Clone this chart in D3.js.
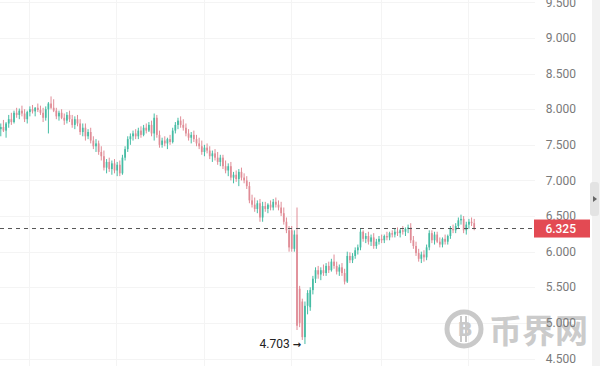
<!DOCTYPE html>
<html>
<head>
<meta charset="utf-8">
<script src="https://cdn.jsdelivr.net/npm/d3@7"></script>
<style>
  html, body { margin: 0; padding: 0; background: #fff; }
  svg { display: block; }
</style>
</head>
<body>
<svg id="chart" width="600" height="366"></svg>
<script>
// price axis ticks
const priceTicks = [4.5, 5, 5.5, 6, 6.5, 7, 7.5, 8, 8.5, 9, 9.5];
const lastPrice = 6.325;
const lowPrice = 4.703;
const lowIndex = 115;
// candle indices where the faint time grid sits
const gridIndex = [11, 44, 77, 110, 144, 177];

// [open, high, low, close]
const candles = [
  [7.72,7.80,7.62,7.75],[7.75,7.85,7.68,7.70],[7.70,7.82,7.60,7.80],[7.80,7.92,7.74,7.86],[7.86,7.95,7.78,7.82],
  [7.82,7.98,7.80,7.95],[7.95,8.02,7.88,7.92],[7.92,8.01,7.86,7.98],[7.98,8.05,7.90,7.94],[7.94,8.00,7.82,7.86],
  [7.86,7.98,7.80,7.96],[7.96,8.04,7.90,8.00],[8.00,8.06,7.94,7.97],[7.97,8.03,7.90,8.02],[8.02,8.08,7.96,7.99],
  [7.99,8.05,7.92,7.95],[7.95,8.02,7.82,7.88],[7.88,8.04,7.84,8.00],[8.00,8.10,7.66,8.08],[8.08,8.18,8.00,8.02],
  [8.02,8.14,7.96,7.98],[7.98,8.02,7.86,7.90],[7.90,7.98,7.84,7.95],[7.95,8.00,7.86,7.88],[7.88,7.94,7.78,7.84],
  [7.84,7.96,7.80,7.92],[7.92,7.98,7.82,7.86],[7.86,7.92,7.74,7.78],[7.78,7.90,7.72,7.86],[7.86,7.92,7.76,7.80],
  [7.80,7.86,7.64,7.68],[7.68,7.80,7.62,7.74],[7.74,7.80,7.56,7.62],[7.62,7.72,7.58,7.68],[7.68,7.74,7.52,7.56],
  [7.56,7.62,7.44,7.48],[7.48,7.58,7.40,7.52],[7.52,7.56,7.36,7.40],[7.40,7.48,7.28,7.34],[7.34,7.42,7.14,7.18],
  [7.18,7.30,7.10,7.26],[7.26,7.32,7.12,7.16],[7.16,7.28,7.08,7.24],[7.24,7.30,7.10,7.14],[7.14,7.26,7.06,7.22],
  [7.22,7.28,7.06,7.10],[7.10,7.36,7.08,7.32],[7.32,7.48,7.28,7.44],[7.44,7.62,7.40,7.58],[7.58,7.66,7.50,7.62],
  [7.62,7.70,7.56,7.66],[7.66,7.72,7.58,7.62],[7.62,7.74,7.58,7.70],[7.70,7.76,7.60,7.64],[7.64,7.78,7.62,7.74],
  [7.74,7.80,7.66,7.70],[7.70,7.82,7.68,7.78],[7.78,7.84,7.62,7.66],[7.66,7.94,7.56,7.88],[7.88,7.92,7.60,7.64],
  [7.64,7.70,7.46,7.50],[7.50,7.60,7.46,7.56],[7.56,7.62,7.48,7.52],[7.52,7.60,7.44,7.58],[7.58,7.64,7.50,7.54],
  [7.54,7.74,7.52,7.70],[7.70,7.82,7.66,7.78],[7.78,7.88,7.72,7.84],[7.84,7.90,7.74,7.78],[7.78,7.86,7.70,7.74],
  [7.74,7.80,7.62,7.66],[7.66,7.72,7.56,7.60],[7.60,7.68,7.52,7.64],[7.64,7.70,7.54,7.58],[7.58,7.64,7.48,7.52],
  [7.52,7.60,7.44,7.48],[7.48,7.56,7.36,7.40],[7.40,7.50,7.34,7.46],[7.46,7.52,7.38,7.42],[7.42,7.48,7.30,7.34],
  [7.34,7.42,7.26,7.38],[7.38,7.44,7.28,7.32],[7.32,7.40,7.22,7.26],[7.26,7.36,7.20,7.32],[7.32,7.36,7.16,7.20],
  [7.20,7.28,7.10,7.14],[7.14,7.24,7.06,7.20],[7.20,7.26,7.00,7.04],[7.04,7.12,6.96,7.08],[7.08,7.14,6.98,7.02],
  [7.02,7.16,6.92,7.12],[7.12,7.18,7.00,7.04],[7.04,7.10,6.96,7.00],[7.00,7.06,6.88,6.92],[6.92,6.98,6.68,6.72],
  [6.72,6.80,6.62,6.66],[6.66,6.76,6.56,6.60],[6.60,6.72,6.54,6.68],[6.68,6.74,6.42,6.48],[6.48,6.70,6.42,6.64],
  [6.64,6.70,6.56,6.60],[6.60,6.68,6.54,6.66],[6.66,6.72,6.58,6.62],[6.62,6.74,6.58,6.70],[6.70,6.76,6.62,6.66],
  [6.66,6.72,6.58,6.62],[6.62,6.70,6.50,6.54],[6.54,6.62,6.38,6.42],[6.42,6.48,6.26,6.30],[6.30,6.36,6.00,6.06],
  [6.30,6.36,6.00,6.04],[6.04,6.30,6.00,6.24],[6.24,6.62,4.90,4.96],[5.48,5.52,4.94,5.00],[5.30,5.34,4.76,4.80],
  [4.80,5.30,4.703,5.24],[5.24,5.46,5.12,5.42],[5.22,5.50,5.17,5.46],[5.46,5.66,5.40,5.62],[5.62,5.78,5.56,5.74],
  [5.74,5.80,5.62,5.68],[5.68,5.78,5.60,5.74],[5.74,5.82,5.66,5.70],[5.70,5.84,5.66,5.80],[5.80,5.86,5.70,5.74],
  [5.74,5.90,5.72,5.86],[5.86,5.96,5.76,5.80],[5.80,5.86,5.68,5.72],[5.72,5.82,5.66,5.78],[5.78,5.84,5.66,5.70],
  [5.70,5.76,5.54,5.58],[5.58,6.00,5.56,5.94],[5.94,5.99,5.84,5.88],[5.88,5.98,5.84,5.94],[5.94,6.06,5.90,6.02],
  [6.02,6.10,5.96,6.06],[6.06,6.32,6.02,6.28],[6.28,6.30,6.14,6.18],[6.18,6.26,6.12,6.22],[6.22,6.28,6.10,6.14],
  [6.14,6.24,6.08,6.20],[6.20,6.26,6.04,6.08],[6.08,6.18,6.04,6.14],[6.14,6.22,6.10,6.18],[6.18,6.24,6.12,6.16],
  [6.16,6.24,6.12,6.22],[6.22,6.28,6.16,6.20],[6.20,6.28,6.16,6.26],[6.26,6.30,6.20,6.24],[6.24,6.32,6.20,6.28],
  [6.28,6.34,6.22,6.26],[6.26,6.32,6.20,6.30],[6.30,6.36,6.24,6.28],[6.28,6.34,6.22,6.32],[6.32,6.38,6.26,6.34],
  [6.34,6.40,6.12,6.16],[6.16,6.22,6.04,6.08],[6.08,6.14,5.94,5.98],[5.98,6.04,5.86,5.90],[5.90,6.00,5.84,5.96],
  [5.96,6.02,5.86,5.92],[5.92,6.10,5.88,6.06],[6.06,6.30,6.02,6.26],[6.26,6.30,6.12,6.16],[6.16,6.28,6.10,6.24],
  [6.24,6.28,6.12,6.14],[6.14,6.20,6.06,6.10],[6.10,6.20,6.06,6.18],[6.18,6.24,6.10,6.14],[6.14,6.24,6.10,6.22],
  [6.22,6.36,6.18,6.32],[6.32,6.38,6.26,6.30],[6.30,6.40,6.26,6.36],[6.36,6.48,6.32,6.44],[6.44,6.52,6.38,6.46],
  [6.46,6.50,6.26,6.30],[6.30,6.42,6.24,6.38],[6.38,6.46,6.32,6.42],[6.42,6.48,6.36,6.40],[6.40,6.46,6.30,6.325]
];

const upColor = '#45bca4',
      downColor = '#e08c96';

const svg = d3.select('#chart');
const plotRight = 535;

let x = d3.scaleBand()
    .domain(d3.range(candles.length))
    .range([-1, 476])
    .padding(0.35);

let y = d3.scaleLinear()
    .domain([4.5, 9.5])
    .range([358.5, 2.4]);

// faint grid
let grid = svg.append('g').attr('class', 'grid');
grid.selectAll('line.h')
    .data(priceTicks)
    .enter().append('line')
    .attr('class', 'h')
    .attr('x1', 0).attr('x2', plotRight)
    .attr('y1', d => Math.round(y(d)) + 0.5)
    .attr('y2', d => Math.round(y(d)) + 0.5)
    .attr('stroke', '#f4f4f4');

grid.selectAll('line.v')
    .data(gridIndex)
    .enter().append('line')
    .attr('class', 'v')
    .attr('x1', d => Math.round(x(d)) + 0.5)
    .attr('x2', d => Math.round(x(d)) + 0.5)
    .attr('y1', 0).attr('y2', 366)
    .attr('stroke', '#f4f4f4');

// watermark
let wm = svg.append('g').attr('class', 'watermark');
wm.append('circle')
    .attr('cx', 464).attr('cy', 329).attr('r', 17)
    .attr('fill', 'none')
    .attr('stroke', '#c9c9c9')
    .attr('stroke-width', 5);
wm.append('text')
    .attr('x', 465).attr('y', 329)
    .attr('dy', '0.36em')
    .attr('text-anchor', 'middle')
    .attr('font-family', 'DejaVu Sans, sans-serif')
    .attr('font-weight', 'bold')
    .attr('font-size', 20)
    .attr('fill', '#c9c9c9')
    .text('B');
[461, 466].forEach(cx => {
    wm.append('rect').attr('x', cx - 1).attr('y', 316).attr('width', 2).attr('height', 26).attr('fill', '#c9c9c9');
});
wm.append('text')
    .attr('x', 489).attr('y', 331)
    .attr('dy', '0.36em')
    .attr('font-family', 'Noto Sans CJK SC, sans-serif')
    .attr('font-weight', 'bold')
    .attr('font-size', 33)
    .attr('fill', '#cbcbcb')
    .text('币界网');

// candles
let candleG = svg.append('g').attr('class', 'candles');
let bw = x.bandwidth();
let c = candleG.selectAll('g')
    .data(candles)
    .enter().append('g')
    .attr('fill', d => d[3] >= d[0] ? upColor : downColor)
    .attr('stroke', d => d[3] >= d[0] ? upColor : downColor);

c.append('line')
    .attr('x1', (d, i) => x(i) + bw / 2)
    .attr('x2', (d, i) => x(i) + bw / 2)
    .attr('y1', d => y(d[1]))
    .attr('y2', d => y(d[2]))
    .attr('stroke-width', 1);

c.append('rect')
    .attr('x', (d, i) => x(i))
    .attr('width', bw)
    .attr('y', d => y(Math.max(d[0], d[3])))
    .attr('height', d => Math.max(1, Math.abs(y(d[0]) - y(d[3]))))
    .attr('stroke', 'none');

// last price dashed line
svg.append('line')
    .attr('x1', 0).attr('x2', plotRight)
    .attr('y1', y(lastPrice)).attr('y2', y(lastPrice))
    .attr('stroke', '#555')
    .attr('stroke-width', 1)
    .attr('stroke-dasharray', '4,4');

// price axis labels
let axis = svg.append('g').attr('class', 'axis');
axis.selectAll('text')
    .data(priceTicks)
    .enter().append('text')
    .attr('x', 576)
    .attr('y', d => y(d))
    .attr('dy', '0.35em')
    .attr('text-anchor', 'end')
    .attr('font-family', 'Roboto, sans-serif')
    .attr('font-size', 12)
    .attr('fill', '#7a7a7a')
    .text(d3.format('.3f'));

// last price badge
let badge = svg.append('g');
badge.append('rect')
    .attr('x', 534).attr('y', y(lastPrice) - 9)
    .attr('width', 56).attr('height', 18)
    .attr('fill', '#e34a53');
badge.append('text')
    .attr('x', 576).attr('y', y(lastPrice))
    .attr('dy', '0.35em')
    .attr('text-anchor', 'end')
    .attr('font-family', 'Roboto, sans-serif')
    .attr('font-size', 12)
    .attr('font-weight', 500)
    .attr('fill', '#fff')
    .text(d3.format('.3f')(lowPrice === lastPrice ? lowPrice : lastPrice));

// low marker
let lowLabel = svg.append('text')
    .attr('x', x(lowIndex) - 3)
    .attr('y', y(lowPrice))
    .attr('dy', '0.35em')
    .attr('text-anchor', 'end')
    .attr('font-family', 'Roboto, sans-serif')
    .attr('font-size', 12)
    .attr('fill', '#222');
lowLabel.append('tspan').text(d3.format('.3f')(lowPrice) + ' ');
lowLabel.append('tspan')
    .attr('font-family', 'DejaVu Sans, sans-serif')
    .attr('font-size', 10)
    .attr('font-weight', 'bold')
    .text('→');

// right edge strip and collapse tab
svg.append('rect')
    .attr('x', 592).attr('y', 0).attr('width', 8).attr('height', 366)
    .attr('fill', '#f2f2f2');
svg.append('rect')
    .attr('x', 590).attr('y', 182).attr('width', 9).attr('height', 34).attr('rx', 3)
    .attr('fill', '#e3e3e3');
svg.append('path')
    .attr('d', 'M593,196 L597,199 L593,202 Z')
    .attr('fill', '#666');
</script>
</body>
</html>
